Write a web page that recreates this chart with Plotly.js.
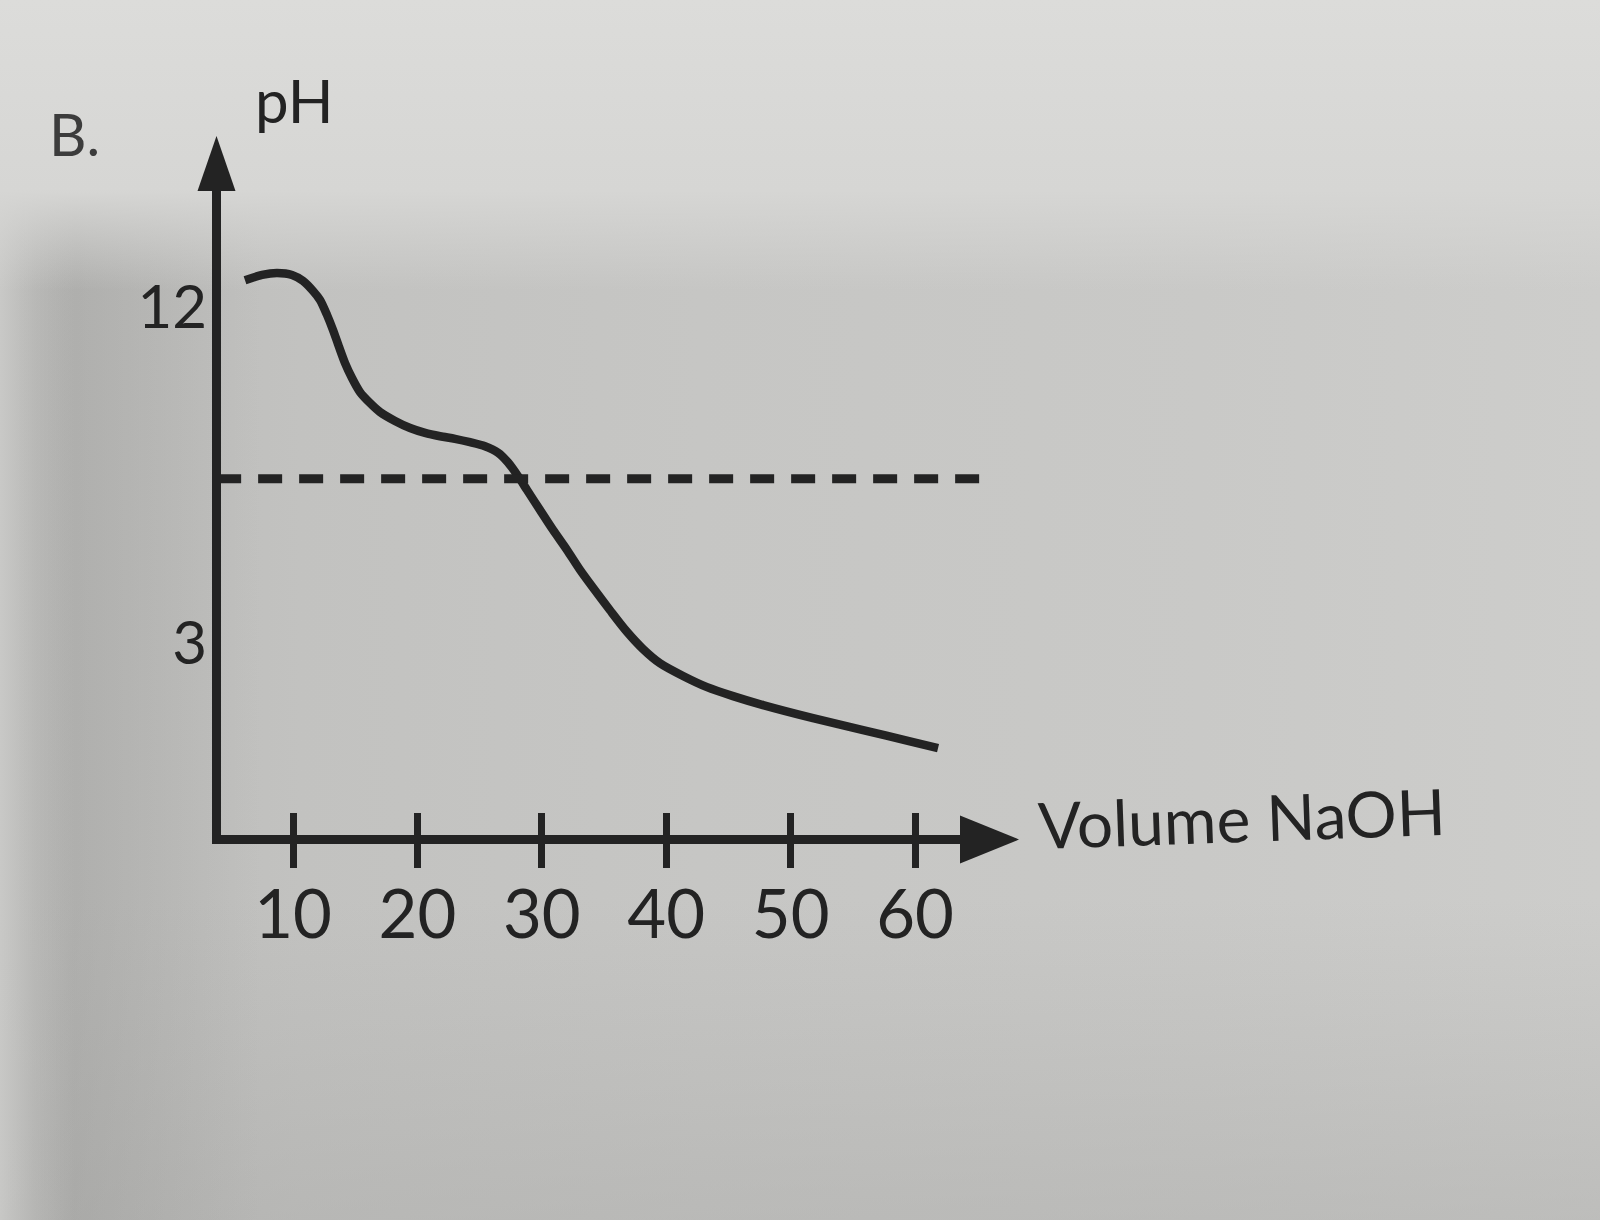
<!DOCTYPE html>
<html>
<head>
<meta charset="utf-8">
<script src="https://cdn.plot.ly/plotly-3.0.1.min.js"></script>
<style>
  html, body { margin: 0; padding: 0; }
  body {
    width: 1600px; height: 1220px; overflow: hidden;
    background:
      linear-gradient(to bottom, rgba(220,220,218,1) 0px, rgba(214,214,212,1) 190px, rgba(214,214,212,0) 290px),
      linear-gradient(to right, rgba(210,210,208,0.75) 0px, rgba(205,205,203,0.35) 35px, rgba(205,205,203,0) 75px),
      linear-gradient(to right, rgba(150,150,148,0.35) 60px, rgba(150,150,148,0) 260px),
      linear-gradient(to bottom, rgba(0,0,0,0) 900px, rgba(170,170,168,0.45) 1220px),
      linear-gradient(to right, #b9b9b7 0px, #c2c2c0 300px, #c6c6c4 700px, #c9c9c7 1200px, #cdcdcb 1600px);
  }
  #chart { width: 1600px; height: 1220px; }
</style>
</head>
<body>
<div id="chart"></div>
<script>
// ---- data ----
const volume = [6.14, 7.51, 8.71, 9.92, 10.80, 11.61, 12.17, 12.73, 13.22, 13.70, 14.18, 14.74, 15.39, 16.19, 16.99,
  18.20, 19.41, 20.61, 21.82, 23.02, 24.23, 25.43, 26.48, 27.28, 28.09, 28.81, 29.86, 30.90, 32.03, 33.07,
  34.12, 35.48, 36.85, 38.14, 39.50, 41.35, 43.28, 45.37, 47.78, 51.80, 55.82, 59.84, 61.85];
const pH = [12.72, 12.86, 12.91, 12.86, 12.70, 12.43, 12.19, 11.79, 11.38, 10.93, 10.50, 10.10, 9.72, 9.43, 9.19,
  8.95, 8.76, 8.63, 8.54, 8.47, 8.38, 8.27, 8.10, 7.84, 7.47, 7.10, 6.56, 6.03, 5.49, 4.96,
  4.48, 3.88, 3.30, 2.84, 2.46, 2.12, 1.82, 1.58, 1.34, 0.99, 0.67, 0.35, 0.19];
const refLineX = [3.9, 66.4];
const refLineY = [7.4, 7.4];
const xTickVals = [10, 20, 30, 40, 50, 60];
const xTickText = ['10', '20', '30', '40', '50', '60'];
const yTickVals = [3, 12];
const yTickText = ['3', '12'];

// ---- layout geometry ----
const L = 221, R = 1000, T = 158, B = 835;
const W = R - L, H = B - T;
const px = (x) => (x - L) / W;
const py = (y) => (B - y) / H;
const ink = '#232323';
const FONT = 'Lato, "Open Sans", sans-serif';

function tri(p1, p2, p3) {
  return 'M ' + px(p1[0]) + ' ' + py(p1[1]) + ' L ' + px(p2[0]) + ' ' + py(p2[1]) +
         ' L ' + px(p3[0]) + ' ' + py(p3[1]) + ' Z';
}

const traces = [
  {
    x: refLineX, y: refLineY, xaxis: 'x2', yaxis: 'y',
    mode: 'lines', type: 'scatter', hoverinfo: 'skip',
    line: { color: ink, width: 9, dash: '24px,17px' }
  },
  {
    x: volume, y: pH, mode: 'lines', type: 'scatter', hoverinfo: 'skip',
    line: { color: ink, width: 8.5, shape: 'spline', smoothing: 0.8 }
  }
];

const xr = [4.21, 66.83];
const layout = {
  width: 1600, height: 1220,
  margin: { l: L, r: 1600 - R, t: T, b: 1220 - B, pad: 0 },
  paper_bgcolor: 'rgba(0,0,0,0)',
  plot_bgcolor: 'rgba(0,0,0,0)',
  showlegend: false,
  font: { family: FONT, color: ink },
  xaxis: {
    range: xr, showgrid: false, zeroline: false,
    showline: true, linecolor: ink, linewidth: 9,
    ticks: 'outside', ticklen: 24, tickwidth: 7, tickcolor: ink,
    tickvals: xTickVals, ticktext: xTickText,
    tickfont: { family: FONT, size: 67, color: ink },
    ticklabelstandoff: -10
  },
  xaxis2: {
    range: xr, overlaying: 'x', anchor: 'y', side: 'bottom',
    showgrid: false, zeroline: false, showline: false,
    ticks: 'inside', ticklen: 22, tickwidth: 7, tickcolor: ink,
    tickvals: xTickVals, showticklabels: false
  },
  yaxis: {
    range: [-2.14, (755 - 158) / 37.33], showgrid: false, zeroline: false,
    showline: true, linecolor: ink, linewidth: 9,
    ticks: '', tickvals: yTickVals, ticktext: yTickText,
    tickfont: { family: FONT, size: 60, color: ink },
    ticklabelstandoff: -7
  },
  shapes: [
    { type: 'path', xref: 'paper', yref: 'paper', path: tri([216.5, 136], [197.5, 191], [235.5, 191]),
      fillcolor: ink, line: { width: 0 } },
    { type: 'path', xref: 'paper', yref: 'paper', path: tri([1019, 839.5], [960, 815.5], [960, 863.5]),
      fillcolor: ink, line: { width: 0 } }
  ],
  annotations: [
    { text: 'pH', xref: 'paper', yref: 'paper', x: px(294), y: py(100), xanchor: 'center', yanchor: 'middle',
      showarrow: false, font: { family: FONT, size: 60, color: ink } },
    { text: 'B.', xref: 'paper', yref: 'paper', x: px(74), y: py(134), xanchor: 'center', yanchor: 'middle',
      showarrow: false, font: { family: FONT, size: 58, color: '#3c3c3c' } },
    { text: 'Volume NaOH', xref: 'paper', yref: 'paper', x: px(1035), y: py(817), xanchor: 'left', yanchor: 'middle',
      textangle: -2, showarrow: false, font: { family: FONT, size: 64, color: ink } }
  ]
};

Plotly.newPlot('chart', traces, layout, { staticPlot: true, displayModeBar: false });
</script>
</body>
</html>
